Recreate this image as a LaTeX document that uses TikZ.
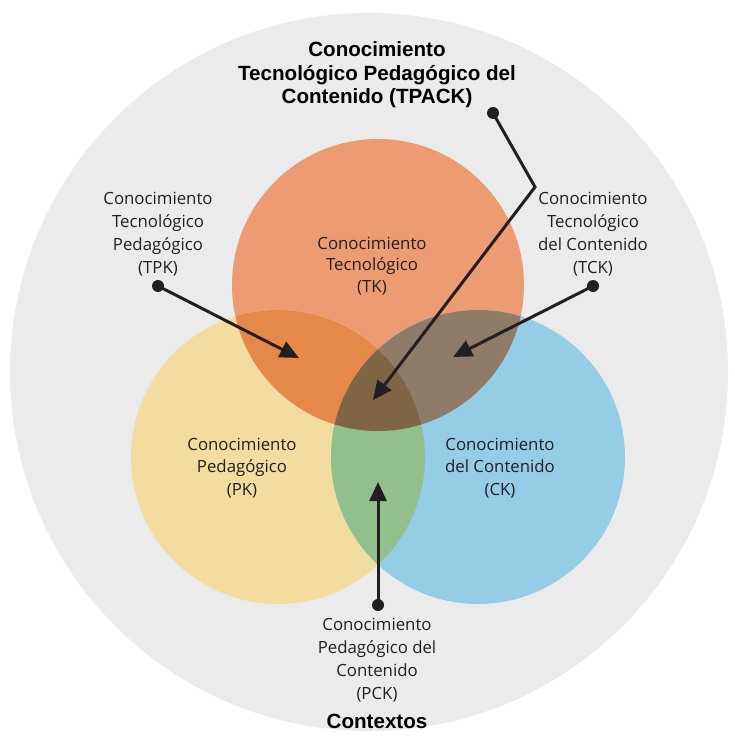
\documentclass[tikz,border=0pt]{standalone}
\usepackage{fontspec}
\setmainfont{Open Sans}
\newfontfamily\titlefont{Liberation Sans}
\usetikzlibrary{arrows.meta}

\definecolor{ctxgrey}{HTML}{EBEBEB}
\definecolor{tkcol}{HTML}{ED9B73}
\definecolor{pkcol}{HTML}{F2DC9F}
\definecolor{ckcol}{HTML}{95CDE6}
\definecolor{tpkcol}{HTML}{E5894A}
\definecolor{tckcol}{HTML}{8F7C68}
\definecolor{pckcol}{HTML}{92C08D}
\definecolor{tpackcol}{HTML}{7F6545}
\definecolor{inkcol}{HTML}{231F20}

\tikzset{
  label/.style={align=center, text=inkcol, font=\fontsize{16.8}{22.8}\selectfont},
  title/.style={align=center, text=black, font=\titlefont\bfseries\fontsize{20.6}{23.5}\selectfont},
  dot/.style={circle, fill=inkcol, inner sep=0pt, minimum size=12pt},
  pointer/.style={draw=inkcol, line width=3pt, line join=miter,
    -{Triangle[length=19pt,width=17pt]}},
}

\begin{document}
\begin{tikzpicture}[x=1pt,y=-1pt]
\useasboundingbox (0,0) rectangle (734,738);
\fill[white] (0,0) rectangle (734,738);

% context circle
\fill[ctxgrey] (369,372) circle[radius=359];

% the three knowledge circles
\def\tkc{(378,285) circle[radius=146]}
\def\pkc{(278,457) circle[radius=147]}
\def\ckc{(478,457) circle[radius=147]}
\fill[tkcol] \tkc;
\fill[pkcol] \pkc;
\fill[ckcol] \ckc;

% pairwise overlaps
\begin{scope}\clip \tkc; \fill[tpkcol] \pkc; \end{scope}
\begin{scope}\clip \tkc; \fill[tckcol] \ckc; \end{scope}
\begin{scope}\clip \pkc; \fill[pckcol] \ckc; \end{scope}
% centre overlap
\begin{scope}\clip \tkc; \clip \pkc; \fill[tpackcol] \ckc; \end{scope}

% labels
\node[title] (tpack) at (377,75) {Conocimiento\\Tecnológico Pedagógico del\\Contenido (TPACK)};
\node[title] (ctx) at (377,721) {Contextos};
\node[label, font=\fontsize{16.8}{21.2}\selectfont] (tk) at (372,266) {Conocimiento\\Tecnológico\\(TK)};
\node[label] (pk) at (242,468) {Conocimiento\\Pedagógico\\(PK)};
\node[label] (ck) at (500,468) {Conocimiento\\del Contenido\\(CK)};
\node[label] (tpk) at (158,234) {Conocimiento\\Tecnológico\\Pedagógico\\(TPK)};
\node[label] (tck) at (593,234) {Conocimiento\\Tecnológico\\del Contenido\\(TCK)};
\node[label] (pck) at (377,660) {Conocimiento\\Pedagógico del\\Contenido\\(PCK)};

% pointer dots and targets
\node[dot] (tpkdot) at (158,286) {};
\node[dot] (tckdot) at (593,286) {};
\node[dot] (tpackdot) at (493,113) {};
\node[dot] (pckdot) at (378,605) {};
\coordinate (tpktip) at (299,358);
\coordinate (tcktip) at (453,357);
\coordinate (tpackbend) at (535,187);
\coordinate (tpacktip) at (373,400);
\coordinate (pcktip) at (378,482);

% pointers
\draw[pointer] (tpkdot.center) -- (tpktip);
\draw[pointer] (tckdot.center) -- (tcktip);
\draw[pointer] (tpackdot.center) -- (tpackbend) -- (tpacktip);
\draw[pointer] (pckdot.center) -- (pcktip);
\end{tikzpicture}
\end{document}
